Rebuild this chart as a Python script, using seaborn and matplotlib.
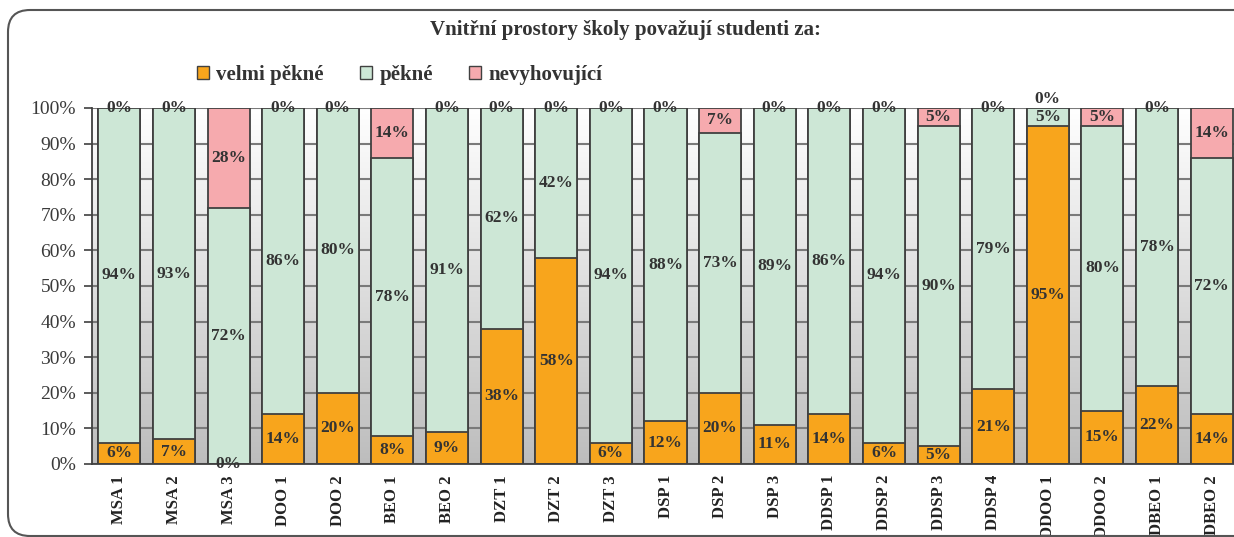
import numpy as np
import pandas as pd
import matplotlib
matplotlib.use("Agg")
import matplotlib.pyplot as plt
import seaborn as sns
from matplotlib.patches import FancyBboxPatch, Patch
from matplotlib.colors import LinearSegmentedColormap

categories = ["MSA 1", "MSA 2", "MSA 3", "DOO 1", "DOO 2", "BEO 1", "BEO 2",
              "DZT 1", "DZT 2", "DZT 3", "DSP 1", "DSP 2", "DSP 3", "DDSP 1",
              "DDSP 2", "DDSP 3", "DDSP 4", "DDOO 1", "DDOO 2", "DBEO 1", "DBEO 2"]
velmi_pekne = [6, 7, 0, 14, 20, 8, 9, 38, 58, 6, 12, 20, 11, 14, 6, 5, 21, 95, 15, 22, 14]
pekne = [94, 93, 72, 86, 80, 78, 91, 62, 42, 94, 88, 73, 89, 86, 94, 90, 79, 5, 80, 78, 72]
nevyhovujici = [0, 0, 28, 0, 0, 14, 0, 0, 0, 0, 0, 7, 0, 0, 0, 5, 0, 0, 5, 0, 14]
series_names = ["velmi pěkné", "pěkné", "nevyhovující"]
colors = ["#F8A51C", "#CDE7D6", "#F6AAAE"]
title = "Vnitřní prostory školy považují studenti za:"

sns.set_theme(style="white")
plt.rcParams["font.family"] = ["Liberation Serif", "DejaVu Serif"]

W, H = 1234, 537
fig = plt.figure(figsize=(W / 100, H / 100), dpi=100)

# rounded outer frame (runs past the right edge)
frame = FancyBboxPatch((0.08, 0.01), 13.0, 5.26,
                       boxstyle="round,pad=0,rounding_size=0.22",
                       transform=fig.dpi_scale_trans, fill=False,
                       ec="#555555", lw=1.5)
fig.patches.append(frame)

ax = fig.add_axes([92 / W, 1 - 464 / H, (1239 - 92) / W, (464 - 108) / H])

df = pd.DataFrame({"cat": categories, "v": velmi_pekne, "p": pekne, "n": nevyhovujici})
df["top_p"] = df["v"] + df["p"]
df["top_n"] = df["top_p"] + df["n"]

bar_kw = dict(width=0.77, edgecolor="#404040", linewidth=1.3, saturation=1, ax=ax)
sns.barplot(data=df, x="cat", y="top_n", color=colors[2], **bar_kw)
sns.barplot(data=df, x="cat", y="top_p", color=colors[1], **bar_kw)
sns.barplot(data=df, x="cat", y="v", color=colors[0], **bar_kw)

n = len(categories)

# vertical grey gradient behind the bars
cmap = LinearSegmentedColormap.from_list("bg", ["#bdbdbd", "#ffffff"])
ax.imshow(np.linspace(0, 1, 256)[:, None], extent=[-0.5, n - 0.5, 0, 100],
          origin="lower", aspect="auto", cmap=cmap, zorder=-2)
ax.set_xlim(-0.5, n - 0.5)
ax.set_ylim(0, 100)
ax.set_aspect("auto")

ax.set_axisbelow(True)
ax.set_yticks(range(0, 101, 10))
ax.yaxis.grid(True, color="#7a7a7a", lw=1.5)
ax.xaxis.grid(False)
ax.set_yticklabels([f"{t}%" for t in range(0, 101, 10)], fontsize=14, color="#3a3a3a")

ax.set_xticks(range(n))
ax.set_xticklabels(categories, rotation=90, fontsize=12, fontweight="bold", color="#222222")
ax.set_xticks(np.arange(n + 1) - 0.5, minor=True)
ax.tick_params(axis="x", which="major", length=0, pad=8)
ax.tick_params(axis="x", which="minor", length=6, width=1.2, color="#404040", direction="out")
ax.tick_params(axis="y", length=6, width=1.2, color="#404040", direction="out", left=True, pad=5.5)
ax.set_xlabel("")
ax.set_ylabel("")
for side in ("top", "right"):
    ax.spines[side].set_visible(False)
for side in ("left", "bottom"):
    ax.spines[side].set_color("#404040")
    ax.spines[side].set_linewidth(1.3)

# percentage labels inside each segment
lab_kw = dict(ha="center", va="center", fontsize=12.5, fontweight="bold", color="#333333", zorder=6)
for i in range(n):
    v, p, nv = velmi_pekne[i], pekne[i], nevyhovujici[i]
    if v > 0 or (p + nv) == 100:
        ax.text(i, v / 2, f"{v}%", **lab_kw)
    ax.text(i, v + p / 2, f"{p}%", **lab_kw)
    y_n = v + p + nv / 2
    if nv == 0 and p < 10:
        y_n = 102.5
    ax.text(i, y_n, f"{nv}%", **lab_kw)

fig.text(625 / W, 1 - 30 / H, title, ha="center", va="center",
         fontsize=15, fontweight="bold", color="#333333")

handles = [Patch(facecolor=c, edgecolor="#404040", lw=1) for c in colors]
fig.legend(handles, series_names, loc="center left", bbox_to_anchor=(182 / W, 1 - 75 / H),
           ncol=3, frameon=False, prop=dict(size=15, weight="bold"),
           handlelength=0.58, handleheight=0.58, handletextpad=0.35, columnspacing=1.75,
           labelcolor="#333333", borderpad=0.2)

fig.savefig("out.png", dpi=100)
